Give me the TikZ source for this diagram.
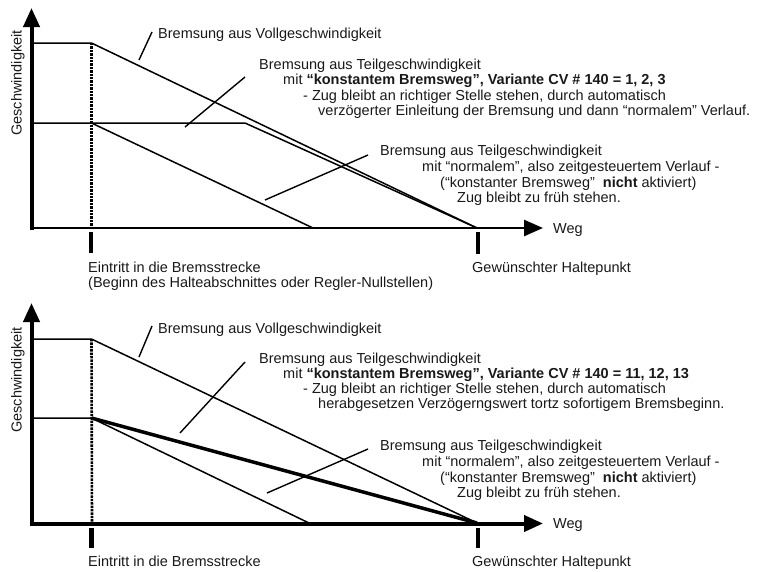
\documentclass[tikz,border=0pt]{standalone}
\usepackage{fontspec}
\setmainfont{Liberation Sans}
\usetikzlibrary{arrows.meta}
\begin{document}
\begin{tikzpicture}[x=1pt,y=-1pt,
  txt/.style={anchor=base west,inner sep=0pt,font=\fontsize{14.5}{16}\selectfont,text=black!90},
  ylab/.style={anchor=center,inner sep=0pt,rotate=90,font=\fontsize{14.5}{16}\selectfont,text=black!90},
  axisline/.style={line width=4pt,-{Triangle[length=19pt,width=16pt]}},
  curve/.style={line width=1.5pt},
  heavy/.style={line width=3.5pt},
  lead/.style={line width=1.4pt},
  tickmark/.style={line width=4.5pt},
  dotline/.style={line width=2.6pt,dash pattern=on 2.4pt off 1pt}
]
\useasboundingbox (0,0) rectangle (760,571);

% ===================== top chart =====================
\coordinate (yb1) at (31.5,230);
\coordinate (yt1) at (31.5,8);
\coordinate (xl1) at (29.5,228);
\coordinate (xr1) at (543,228);
\draw[axisline] (yb1) -- (yt1);
\draw[axisline,line width=2.5pt] (xl1) -- (xr1);

\coordinate (v0) at (31.5,43);
\coordinate (v1) at (91.5,43);
\coordinate (v2) at (477,228);
\coordinate (t0) at (31.5,123);
\coordinate (t1) at (91.5,123);
\coordinate (t2) at (245,123);
\coordinate (n2) at (313,228);
\coordinate (d0) at (91.5,227);

\draw[dotline] (v1) -- (d0);
\draw[curve] (v0) -- (v1) -- (v2);
\draw[curve] (t0) -- (t2) -- (v2);
\draw[curve] (t1) -- (n2);

\coordinate (k0) at (91,232);  \coordinate (k1) at (91,253);
\coordinate (h0) at (478,232); \coordinate (h1) at (478,254);
\draw[tickmark] (k0) -- (k1);
\draw[tickmark] (h0) -- (h1);

\coordinate (la0) at (139,60);  \coordinate (la1) at (152,32);
\coordinate (lb0) at (185,127); \coordinate (lb1) at (245,77);
\coordinate (lc0) at (265,200); \coordinate (lc1) at (368,155);
\draw[lead] (la0) -- (la1);
\draw[lead] (lb0) -- (lb1);
\draw[lead] (lc0) -- (lc1);

\node[ylab] (gy1) at (18,83) {Geschwindigkeit};
\node[txt] (w1) at (553,233) {Weg};
\node[txt] (a1) at (158,38) {Bremsung aus Vollgeschwindigkeit};
\node[txt] (b1) at (259,69) {Bremsung aus Teilgeschwindigkeit};
\node[txt] (b2) at (283,84) {mit \textbf{“konstantem Bremsweg”, Variante CV \# 140 = 1, 2, 3}};
\node[txt] (b3) at (303,100) {- Zug bleibt an richtiger Stelle stehen, durch automatisch};
\node[txt] (b4) at (318,115) {verzögerter Einleitung der Bremsung und dann “normalem” Verlauf.};
\node[txt] (c1) at (380,155) {Bremsung aus Teilgeschwindigkeit};
\node[txt] (c2) at (422,171) {mit “normalem”, also zeitgesteuertem Verlauf -};
\node[txt] (c3) at (440,187) {(“konstanter Bremsweg”\ \ \textbf{nicht} aktiviert)};
\node[txt] (c4) at (457,202) {Zug bleibt zu früh stehen.};
\node[txt] (e1) at (88,272) {Eintritt in die Bremsstrecke};
\node[txt] (e2) at (88,287) {(Beginn des Halteabschnittes oder Regler-Nullstellen)};
\node[txt] (g1) at (472,272) {Gewünschter Haltepunkt};

% ===================== bottom chart =====================
\coordinate (yb2) at (31.5,525.5);
\coordinate (yt2) at (31.5,303);
\coordinate (xl2) at (29.5,523.5);
\coordinate (xr2) at (543,523.5);
\draw[axisline] (yb2) -- (yt2);
\draw[axisline] (xl2) -- (xr2);

\coordinate (V0) at (31.5,339);
\coordinate (V1) at (91.5,339);
\coordinate (V2) at (477,523);
\coordinate (T0) at (31.5,418);
\coordinate (T1) at (91.5,418);
\coordinate (N2) at (309,523);
\coordinate (D0) at (92,522);

\draw[dotline] (V1) -- (D0);
\draw[curve] (V0) -- (V1) -- (V2);
\draw[curve] (T0) -- (T1) -- (N2);
\draw[heavy] (T1) -- (V2);

\coordinate (K0) at (91.5,528); \coordinate (K1) at (91.5,548);
\coordinate (H0) at (478,528);  \coordinate (H1) at (478,548);
\draw[tickmark] (K0) -- (K1);
\draw[tickmark] (H0) -- (H1);

\coordinate (LA0) at (139,357); \coordinate (LA1) at (152,326);
\coordinate (LB0) at (180,433); \coordinate (LB1) at (245,362);
\coordinate (LC0) at (267,493); \coordinate (LC1) at (368,449);
\draw[lead] (LA0) -- (LA1);
\draw[lead] (LB0) -- (LB1);
\draw[lead] (LC0) -- (LC1);

\node[ylab] (gy2) at (18,380) {Geschwindigkeit};
\node[txt] (w2) at (553,528) {Weg};
\node[txt] (A1) at (158,333) {Bremsung aus Vollgeschwindigkeit};
\node[txt] (B1) at (259,363) {Bremsung aus Teilgeschwindigkeit};
\node[txt] (B2) at (283,378) {mit \textbf{“konstantem Bremsweg”, Variante CV \# 140 = 11, 12, 13}};
\node[txt] (B3) at (303,393) {- Zug bleibt an richtiger Stelle stehen, durch automatisch};
\node[txt] (B4) at (318,408) {herabgesetzen Verzögerngswert tortz sofortigem Bremsbeginn.};
\node[txt] (C1) at (380,450) {Bremsung aus Teilgeschwindigkeit};
\node[txt] (C2) at (422,466) {mit “normalem”, also zeitgesteuertem Verlauf -};
\node[txt] (C3) at (440,482) {(“konstanter Bremsweg”\ \ \textbf{nicht} aktiviert)};
\node[txt] (C4) at (457,497) {Zug bleibt zu früh stehen.};
\node[txt] (E1) at (88,566) {Eintritt in die Bremsstrecke};
\node[txt] (G1) at (472,566) {Gewünschter Haltepunkt};
\end{tikzpicture}
\end{document}
